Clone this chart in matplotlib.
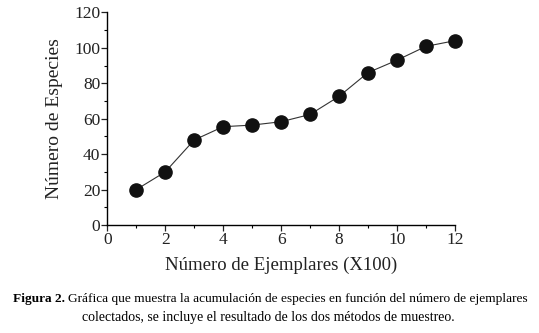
import matplotlib
matplotlib.use("Agg")
import matplotlib.pyplot as plt
from matplotlib.ticker import MultipleLocator

plt.rcParams['font.family'] = ['Liberation Serif', 'DejaVu Serif']

# datos
ejemplares = [1, 2, 3, 4, 5, 6, 7, 8, 9, 10, 11, 12]
especies = [20, 30, 48, 55.5, 56.4, 58.3, 62.4, 72.6, 86, 93, 100.8, 104]

fig = plt.figure(figsize=(5.39, 3.33), dpi=100)
ax = fig.add_axes([0.199, 0.324, 0.645, 0.639])

ax.plot(ejemplares, especies, color='#333333', linewidth=0.8,
        marker='o', markersize=9.5, markerfacecolor='#111111',
        markeredgecolor='#111111', clip_on=False)

ax.set_xlim(0, 12)
ax.set_ylim(0, 120)
ax.xaxis.set_major_locator(MultipleLocator(2))
ax.xaxis.set_minor_locator(MultipleLocator(1))
ax.yaxis.set_major_locator(MultipleLocator(20))
ax.yaxis.set_minor_locator(MultipleLocator(10))
ax.tick_params(which='major', direction='out', length=4, width=0.9,
               labelsize=12.5, colors='#222222', pad=1)
ax.tick_params(which='minor', direction='out', length=2.5, width=0.8)
ax.spines['top'].set_visible(False)
ax.spines['right'].set_visible(False)
ax.spines['left'].set_linewidth(1.0)
ax.spines['bottom'].set_linewidth(1.0)

ax.set_xlabel('Número de Ejemplares (X100)', fontsize=13.5, color='#222222', labelpad=6)
ax.set_ylabel('Número de Especies', fontsize=14, color='#222222', labelpad=8)

# pie de figura
fig.canvas.draw()
renderer = fig.canvas.get_renderer()
t1 = fig.text(0.024, 0.102, 'Figura 2.', fontsize=9.6, fontweight='bold', va='center')
bb = t1.get_window_extent(renderer).transformed(fig.transFigure.inverted())
fig.text(bb.x1 + 0.006, 0.102,
         'Gráfica que muestra la acumulación de especies en función del número de ejemplares',
         fontsize=9.6, va='center')
fig.text(0.498, 0.046, 'colectados, se incluye el resultado de los dos métodos de muestreo.',
         fontsize=10, va='center', ha='center')

fig.savefig('out.png', dpi=100)
